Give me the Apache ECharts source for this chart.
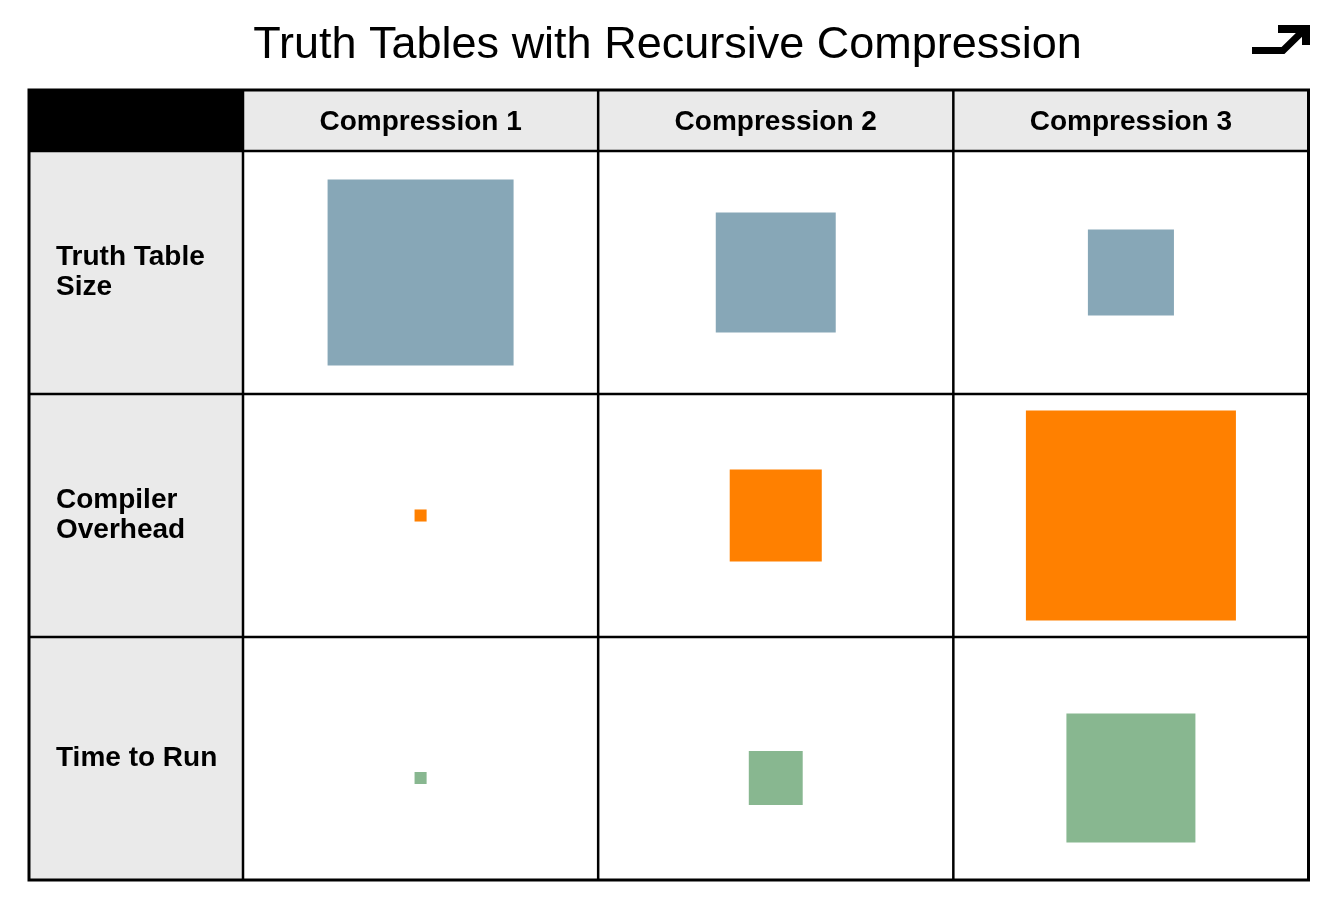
<!DOCTYPE html>
<html>
<head>
<meta charset="utf-8">
<script src="https://cdn.jsdelivr.net/npm/echarts@6/dist/echarts.min.js"></script>
<style>
html,body{margin:0;padding:0;background:#fff;}
#chart{width:1335px;height:907px;}
</style>
</head>
<body>
<div id="chart"></div>
<script>
// ---- data ----
const titleText = 'Truth Tables with Recursive Compression';
const columns = ['Compression 1', 'Compression 2', 'Compression 3'];
const rows = ['Truth Table\nSize', 'Compiler\nOverhead', 'Time to Run'];
const truthTableSize = [100, 41.6, 21.4];
const compilerOverhead = [0.42, 24.5, 127.5];
const timeToRun = [0.42, 8.4, 48.1];
const rowColors = ['#87A7B7', '#FF8000', '#88B790'];

// ---- chart ----
const chart = echarts.init(document.getElementById('chart'));
const seriesValues = [truthTableSize, compilerOverhead, timeToRun];
const rowOffsets = [0, 0, 19.5];
const SIDE_PER_SQRT = 18.6;
const HEADER_H = 61, HEADER_W = 214;
const FONT = 'Liberation Sans, Arial, sans-serif';

const scatterSeries = seriesValues.map((vals, r) => ({
  type: 'scatter',
  z: 5,
  symbol: 'rect',
  silent: true,
  symbolOffset: [0, rowOffsets[r]],
  data: vals.map((v, c) => ({ value: [c, r], symbolSize: Math.sqrt(v) * SIDE_PER_SQRT })),
  itemStyle: { color: rowColors[r], opacity: 1 }
}));

const tableSeries = {
  type: 'custom',
  z: 1,
  silent: true,
  data: [[0, 0]],
  renderItem: function (params, api) {
    const cs = params.coordSys;
    const x0 = cs.x - HEADER_W, y0 = cs.y - HEADER_H;
    const x1 = cs.x + cs.width, y1 = cs.y + cs.height;
    const cw = cs.width / columns.length, rh = cs.height / rows.length;
    const children = [];
    children.push({ type: 'rect', shape: { x: x0, y: cs.y, width: HEADER_W, height: cs.height }, style: { fill: '#EAEAEA' } });
    children.push({ type: 'rect', shape: { x: cs.x, y: y0, width: cs.width, height: HEADER_H }, style: { fill: '#EAEAEA' } });
    children.push({ type: 'rect', shape: { x: x0, y: y0, width: HEADER_W, height: HEADER_H }, style: { fill: '#000' } });
    for (let i = 0; i < columns.length; i++) {
      const x = cs.x + i * cw;
      children.push({ type: 'line', shape: { x1: x, y1: y0, x2: x, y2: y1 }, style: { stroke: '#000', lineWidth: 2.5 } });
    }
    for (let j = 0; j < rows.length; j++) {
      const y = cs.y + j * rh;
      children.push({ type: 'line', shape: { x1: x0, y1: y, x2: x1, y2: y }, style: { stroke: '#000', lineWidth: 2.5 } });
    }
    children.push({ type: 'rect', shape: { x: x0, y: y0, width: x1 - x0, height: y1 - y0 }, style: { fill: null, stroke: '#000', lineWidth: 3 } });
    return { type: 'group', children: children };
  }
};

chart.setOption({
  backgroundColor: '#fff',
  animation: false,
  title: {
    text: titleText,
    left: 'center',
    top: 18,
    textStyle: { fontFamily: FONT, fontSize: 45, fontWeight: 'normal', color: '#000' }
  },
  graphic: [
    { type: 'polyline', shape: { points: [[1252, 50.5], [1283, 50.5], [1305, 29]] }, style: { stroke: '#000', lineWidth: 7, fill: null, lineJoin: 'miter' } },
    { type: 'polyline', shape: { points: [[1278, 29], [1306, 29], [1306, 45]] }, style: { stroke: '#000', lineWidth: 8, fill: null, lineJoin: 'miter' } }
  ],
  grid: { left: 243, right: 26.5, top: 151, bottom: 27, containLabel: false },
  xAxis: {
    type: 'category',
    data: columns,
    position: 'top',
    z: 10,
    axisLine: { show: false },
    axisTick: { show: false },
    splitLine: { show: false },
    axisLabel: { margin: 29, verticalAlign: 'middle', fontFamily: FONT, fontSize: 28, fontWeight: 'bold', color: '#000' }
  },
  yAxis: {
    type: 'category',
    data: rows,
    inverse: true,
    z: 10,
    axisLine: { show: false },
    axisTick: { show: false },
    splitLine: { show: false },
    axisLabel: { margin: 187, align: 'left', verticalAlign: 'middle', lineHeight: 30, fontFamily: FONT, fontSize: 28, fontWeight: 'bold', color: '#000' }
  },
  series: [tableSeries].concat(scatterSeries)
});
</script>
</body>
</html>
